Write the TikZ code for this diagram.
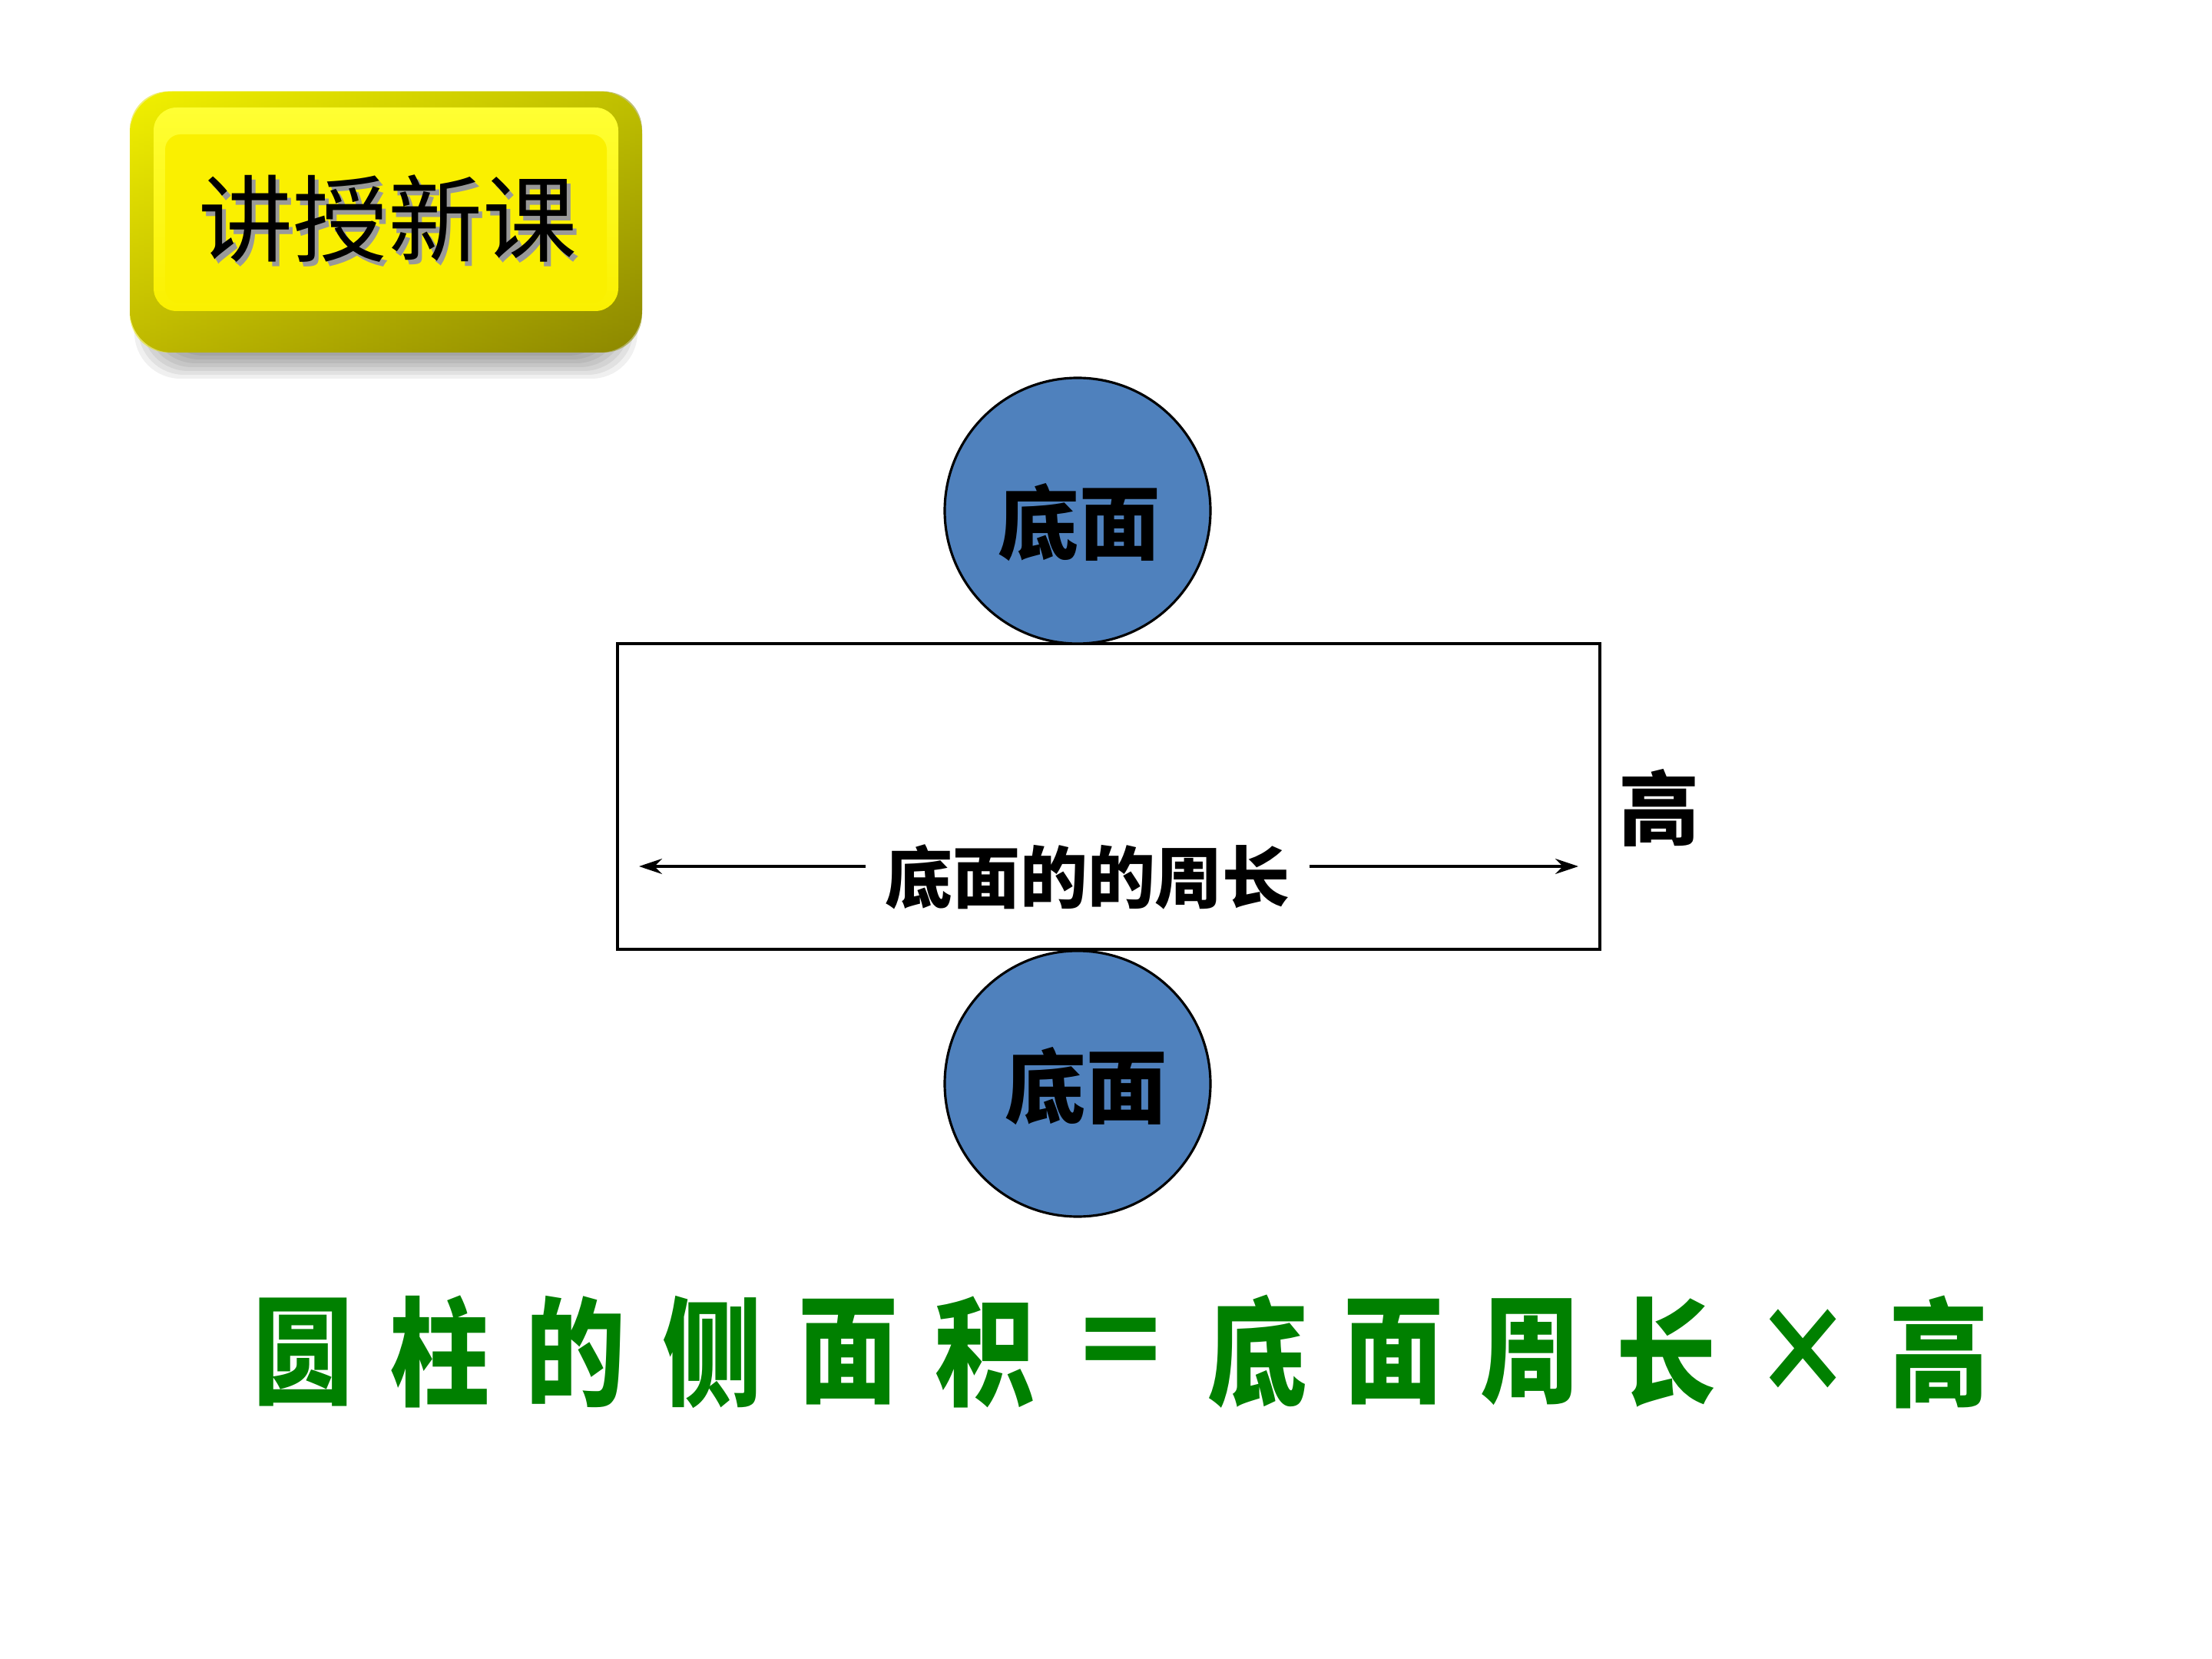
\documentclass[tikz,border=0pt]{standalone}
\usepackage{fontspec}
\newfontfamily\cjk{Noto Sans CJK SC}
\usetikzlibrary{arrows.meta,shadings}
\definecolor{discblue}{RGB}{79,129,189}
\definecolor{fgreen}{RGB}{0,128,0}
\definecolor{olive2}{RGB}{140,130,0}
\definecolor{face}{RGB}{250,240,0}
\tikzset{
  disc/.style={circle,draw=black,line width=0.9pt,fill=discblue,minimum size=3.46cm,inner sep=0pt},
  disclabel/.style={font=\cjk\bfseries\fontsize{30}{34}\selectfont},
  frame/.style={draw=black,line width=0.9pt},
  measure/.style={line width=0.9pt,-{Stealth[length=0.3cm,width=0.2cm]}},
  fchar/.style={font=\cjk\bfseries\fontsize{37}{40}\selectfont,text=fgreen,yscale=1.18,inner sep=0pt},
}
\newcommand{\shadowtext}[1]{\makebox[0pt][l]{\hspace{0.05cm}\raisebox{-0.06cm}{\color{black!40}#1}}#1}
\begin{document}
\begin{tikzpicture}
\useasboundingbox[fill=white] (0,0) rectangle (28.8,-21.6);
% ---- title button ----
\foreach \k in {0,1,...,7}{
  \fill[black,opacity=0.06,rounded corners=0.6cm]
    (1.75+0.05*\k,-1.9-0.05*\k) rectangle (8.30-0.05*\k,-4.93+0.05*\k);
}
\shade[rounded corners=0.55cm,top color=yellow,middle color=yellow!95!black,bottom color=olive2]
  (1.69,-1.19) rectangle (8.36,-4.59);
\shade[rounded corners=0.5cm,left color=yellow!80!olive2,right color=yellow!55!black,opacity=0.55]
  (1.69,-1.19) rectangle (8.36,-4.59);
\shade[rounded corners=0.3cm,top color=yellow!80!white,bottom color=face]
  (2.0,-1.40) rectangle (8.05,-4.05);
\fill[face,rounded corners=0.2cm] (2.15,-1.75) rectangle (7.9,-3.95);
\node (title) [font=\cjk\fontsize{35}{40}\selectfont] at (5.05,-2.88) {\shadowtext{讲授新课}};
% ---- net of the cylinder ----
\node (side) [frame,minimum width=12.79cm,minimum height=3.98cm,inner sep=0pt] at (14.435,-10.37) {};
\node (topc) [disc] at (14.03,-6.65) {};
\node [disclabel] at (14.05,-6.80) {底面};
\node (botc) [disc] at (14.03,-14.11) {};
\node [disclabel] at (14.14,-14.14) {底面};
\node (high) [font=\cjk\bfseries\fontsize{30}{34}\selectfont] at (21.6,-10.52) {高};
\node (perim) [font=\cjk\bfseries\fontsize{25}{28}\selectfont,inner xsep=0.25cm] at (14.16,-11.42) {底面的的周长};
\coordinate (lt) at (8.32,-11.28);
\coordinate (rt) at (20.55,-11.28);
\draw[measure] (perim.west |- lt) -- (lt);
\draw[measure] (perim.east |- rt) -- (rt);
% ---- formula ----
\foreach \c [count=\i from 0] in {圆,柱,的,侧,面,积,＝,底,面,周,长,×,高}{
  \node (f\i) [fchar] at (3.95+1.775*\i,-17.60) {\c};
}
\end{tikzpicture}
\end{document}
